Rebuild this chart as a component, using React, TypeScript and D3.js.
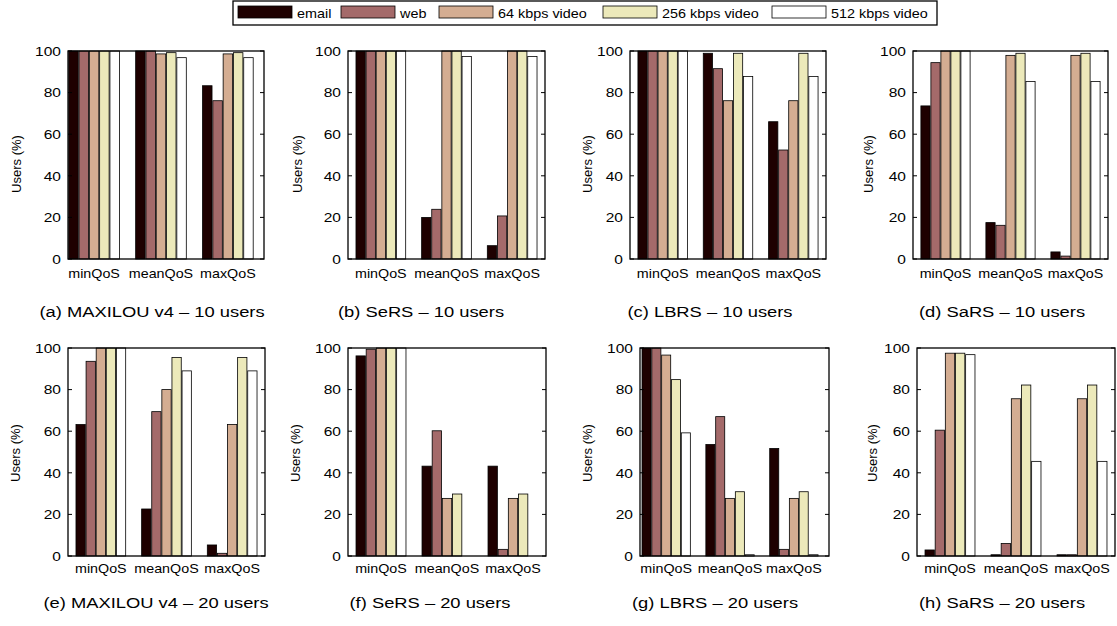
import React from 'react';
import * as d3 from 'd3';

// categories and series
const categories = ['minQoS', 'meanQoS', 'maxQoS'];
const seriesNames = ['email', 'web', '64 kbps video', '256 kbps video', '512 kbps video'];
const seriesColors = ['#1e0000', '#a46a6a', '#d4ad92', '#ece9ba', '#ffffff'];
const yTicks = [0, 20, 40, 60, 80, 100];

// values: one row per category, one column per series (% of users)
const maxilou10 = [[100, 100, 100, 100, 100], [100, 100, 98.6, 99.2, 96.8], [83.3, 76.1, 98.6, 99.2, 96.8]];
const sers10 = [[100, 100, 100, 100, 100], [20, 23.9, 100, 100, 97.4], [6.4, 20.7, 100, 100, 97.4]];
const lbrs10 = [[100, 100, 100, 100, 100], [98.9, 91.5, 76.1, 98.9, 87.7], [66, 52.4, 76.1, 98.9, 87.7]];
const sars10 = [[73.6, 94.4, 100, 100, 100], [17.5, 16.2, 97.9, 98.9, 85.3], [3.4, 1.4, 97.9, 98.9, 85.3]];
const maxilou20 = [[63.2, 93.6, 100, 100, 100], [22.6, 69.4, 80, 95.4, 89], [5.3, 1.3, 63.2, 95.4, 89]];
const sers20 = [[96.2, 99.4, 100, 100, 100], [43.2, 60.2, 27.7, 29.8, 0], [43.2, 3.2, 27.7, 29.8, 0]];
const lbrs20 = [[100, 100, 96.6, 84.8, 59.2], [53.6, 67, 27.7, 30.9, 0.6], [51.7, 3.2, 27.7, 30.9, 0.6]];
const sars20 = [[2.9, 60.5, 97.5, 97.5, 96.8], [0.6, 6, 75.6, 82.2, 45.5], [0.6, 0.6, 75.6, 82.2, 45.5]];

const captions = [
  '(a) MAXILOU v4 \u2013 10 users', '(b) SeRS \u2013 10 users', '(c) LBRS \u2013 10 users', '(d) SaRS \u2013 10 users',
  '(e) MAXILOU v4 \u2013 20 users', '(f) SeRS \u2013 20 users', '(g) LBRS \u2013 20 users', '(h) SaRS \u2013 20 users',
];
const panelData = [maxilou10, sers10, lbrs10, sars10, maxilou20, sers20, lbrs20, sars20];

// layout
const W = 1117, H = 626;
const FONT = '"Liberation Sans", Arial, sans-serif';
const rows = [
  { top: 51, bottom: 259, catY: 278, capY: 317, labY: 164 },
  { top: 348, bottom: 556, catY: 573, capY: 608, labY: 453 },
];
const panels = [
  { x0: 68, x1: 264, row: 0, xlim: [0.61, 3.54], capX: 152, labX: 16 },
  { x0: 348, x1: 545, row: 0, xlim: [0.5, 3.5], capX: 421, labX: 297 },
  { x0: 630, x1: 826, row: 0, xlim: [0.5, 3.5], capX: 710, labX: 587 },
  { x0: 913, x1: 1108, row: 0, xlim: [0.5, 3.5], capX: 1002, labX: 868 },
  { x0: 68, x1: 265, row: 1, xlim: [0.5, 3.5], capX: 156, labX: 15 },
  { x0: 348, x1: 546, row: 1, xlim: [0.5, 3.5], capX: 430, labX: 295 },
  { x0: 640, x1: 829, row: 1, xlim: [0.59, 3.55], capX: 715, labX: 587 },
  { x0: 917, x1: 1115, row: 1, xlim: [0.5, 3.5], capX: 1002, labX: 872 },
];
const legendX = [238, 341, 439, 603, 772];

const groupWidth = 5 / 6.5;
const slot = groupWidth / seriesNames.length;

function T({ x, y, size, anchor = 'middle', sx = 1.15, children }: any) {
  return (
    <text transform={`translate(${x},${y}) scale(${sx},1)`} fontSize={size} textAnchor={anchor} fontFamily={FONT} fill="#000">
      {children}
    </text>
  );
}

function Panel({ idx }: { idx: number }) {
  const p = panels[idx];
  const r = rows[p.row];
  const data = panelData[idx];
  const x = d3.scaleLinear().domain(p.xlim).range([p.x0, p.x1]);
  const y = d3.scaleLinear().domain([0, 100]).range([r.bottom, r.top]);
  const bw = (x(slot) - x(0)) * 0.92;

  return (
    <g>
      {data.map((vals, ci) =>
        vals.map((v, si) => {
          const cx = x(ci + 1 - groupWidth / 2 + slot * (si + 0.5));
          return (
            <rect key={`${ci}-${si}`} x={cx - bw / 2} y={y(v)} width={bw} height={y(0) - y(v)}
              fill={seriesColors[si]} stroke="#000" strokeWidth={0.8} />
          );
        })
      )}
      <rect x={p.x0} y={r.top} width={p.x1 - p.x0} height={r.bottom - r.top} fill="none" stroke="#000" strokeWidth={1.3} />
      {yTicks.map(t => (
        <g key={t}>
          <line x1={p.x0} x2={p.x0 + 4} y1={y(t)} y2={y(t)} stroke="#000" />
          <line x1={p.x1} x2={p.x1 - 4} y1={y(t)} y2={y(t)} stroke="#000" />
          <T x={p.x0 - 7} y={y(t) + 4.8} size={13.5} anchor="end">{t}</T>
        </g>
      ))}
      {categories.map((c, ci) => (
        <T key={c} x={x(ci + 1)} y={r.catY} size={13} sx={1.1}>{c}</T>
      ))}
      <text transform={`translate(${p.labX + 4.5},${r.labY}) rotate(-90)`} fontSize={13} textAnchor="middle" fontFamily={FONT}>
        Users (%)
      </text>
      <T x={p.capX} y={r.capY} size={15.3} sx={1.2}>{captions[idx]}</T>
    </g>
  );
}

export default function App() {
  return (
    <svg width={W} height={H} style={{ position: 'absolute', left: 0, top: 0, background: '#fff' }}>
      <rect x={0} y={0} width={W} height={H} fill="#fff" />
      <rect x={233} y={1} width={704} height={24} fill="#fff" stroke="#000" strokeWidth={1.3} />
      {seriesNames.map((s, i) => (
        <g key={s}>
          <rect x={legendX[i]} y={6} width={54} height={12} fill={seriesColors[i]} stroke="#000" strokeWidth={0.8} />
          <T x={legendX[i] + 59} y={17.5} size={12} anchor="start" sx={1.2}>{s}</T>
        </g>
      ))}
      {panels.map((_, i) => <Panel key={i} idx={i} />)}
    </svg>
  );
}
